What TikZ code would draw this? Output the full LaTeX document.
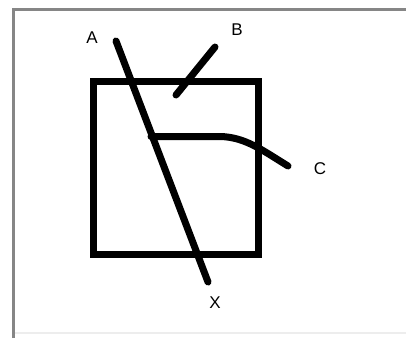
\documentclass[tikz,border=0pt]{standalone}
\usepackage{fontspec}
\setmainfont{Liberation Sans}
\begin{document}
\begin{tikzpicture}[x=1pt,y=-1pt,
  thick stroke/.style={line width=7pt,line cap=round,black},
  lbl/.style={font=\fontsize{17}{17}\selectfont,inner sep=0pt}]
\useasboundingbox (0,0) rectangle (406,338);
\fill[white] (0,0) rectangle (406,338);
% window frame
\draw[line width=3pt,gray!95] (13.5,338) -- (13.5,9.5) -- (406,9.5);
\draw[line width=2pt,black!7] (15,333) -- (406,333);
% box
\draw[line width=7pt,line join=miter] (93,81.5) rectangle (258,254.5);
% coordinates
\coordinate (a1) at (116,41);
\coordinate (a2) at (208,282);
\coordinate (b1) at (215,47);
\coordinate (b2) at (176,95);
\coordinate (c0) at (151,136.5);
\coordinate (c1) at (220,136.5);
\coordinate (c2) at (288,166);
\draw[thick stroke] (a1) -- (a2);
\draw[thick stroke] (b1) -- (b2);
\draw[thick stroke] (c0) -- (c1) .. controls (245,137) and (262,150) .. (c2);
% labels
\node[lbl] (A) at (92,38) {A};
\node[lbl] (B) at (237,30) {B};
\node[lbl] (C) at (320,169) {C};
\node[lbl] (X) at (215,303) {X};
\end{tikzpicture}
\end{document}
